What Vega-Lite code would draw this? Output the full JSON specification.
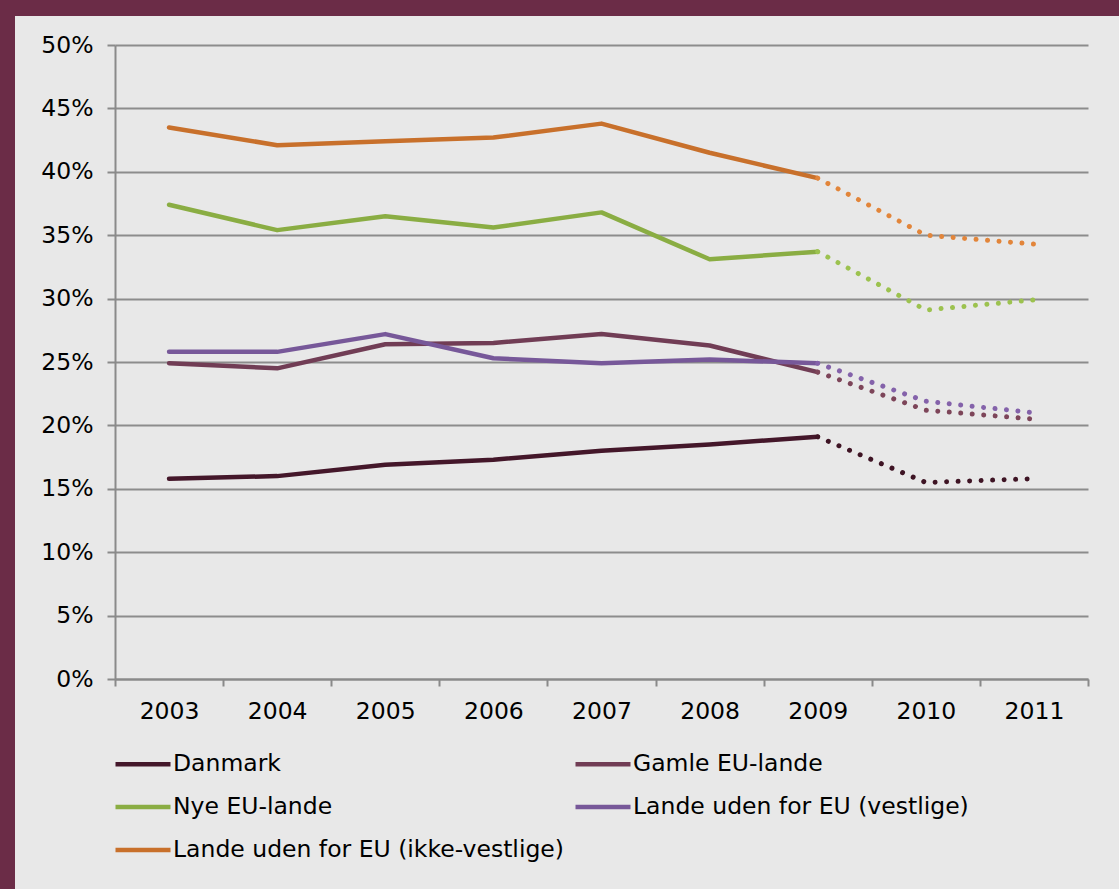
{
  "$schema": "https://vega.github.io/schema/vega-lite/v6.json",
  "width": 1104,
  "height": 873,
  "autosize": "none",
  "padding": {"left": 15, "top": 16, "right": 0, "bottom": 0},
  "background": "#6b2c47",
  "config": {
    "view": {"fill": "#e8e8e8", "stroke": null},
    "font": "DejaVu Sans"
  },
  "data": {
    "values": [
      {"year": 2003, "series": "Danmark", "value": 15.8},
      {"year": 2004, "series": "Danmark", "value": 16.0},
      {"year": 2005, "series": "Danmark", "value": 16.9},
      {"year": 2006, "series": "Danmark", "value": 17.3},
      {"year": 2007, "series": "Danmark", "value": 18.0},
      {"year": 2008, "series": "Danmark", "value": 18.5},
      {"year": 2009, "series": "Danmark", "value": 19.1},
      {"year": 2010, "series": "Danmark", "value": 15.5},
      {"year": 2011, "series": "Danmark", "value": 15.8},
      {"year": 2003, "series": "Gamle EU-lande", "value": 24.9},
      {"year": 2004, "series": "Gamle EU-lande", "value": 24.5},
      {"year": 2005, "series": "Gamle EU-lande", "value": 26.4},
      {"year": 2006, "series": "Gamle EU-lande", "value": 26.5},
      {"year": 2007, "series": "Gamle EU-lande", "value": 27.2},
      {"year": 2008, "series": "Gamle EU-lande", "value": 26.3},
      {"year": 2009, "series": "Gamle EU-lande", "value": 24.2},
      {"year": 2010, "series": "Gamle EU-lande", "value": 21.2},
      {"year": 2011, "series": "Gamle EU-lande", "value": 20.5},
      {"year": 2003, "series": "Nye EU-lande", "value": 37.4},
      {"year": 2004, "series": "Nye EU-lande", "value": 35.4},
      {"year": 2005, "series": "Nye EU-lande", "value": 36.5},
      {"year": 2006, "series": "Nye EU-lande", "value": 35.6},
      {"year": 2007, "series": "Nye EU-lande", "value": 36.8},
      {"year": 2008, "series": "Nye EU-lande", "value": 33.1},
      {"year": 2009, "series": "Nye EU-lande", "value": 33.7},
      {"year": 2010, "series": "Nye EU-lande", "value": 29.1},
      {"year": 2011, "series": "Nye EU-lande", "value": 29.9},
      {"year": 2003, "series": "Lande uden for EU (vestlige)", "value": 25.8},
      {"year": 2004, "series": "Lande uden for EU (vestlige)", "value": 25.8},
      {"year": 2005, "series": "Lande uden for EU (vestlige)", "value": 27.2},
      {"year": 2006, "series": "Lande uden for EU (vestlige)", "value": 25.3},
      {"year": 2007, "series": "Lande uden for EU (vestlige)", "value": 24.9},
      {"year": 2008, "series": "Lande uden for EU (vestlige)", "value": 25.2},
      {"year": 2009, "series": "Lande uden for EU (vestlige)", "value": 24.9},
      {"year": 2010, "series": "Lande uden for EU (vestlige)", "value": 21.9},
      {"year": 2011, "series": "Lande uden for EU (vestlige)", "value": 21.0},
      {"year": 2003, "series": "Lande uden for EU (ikke-vestlige)", "value": 43.5},
      {"year": 2004, "series": "Lande uden for EU (ikke-vestlige)", "value": 42.1},
      {"year": 2005, "series": "Lande uden for EU (ikke-vestlige)", "value": 42.4},
      {"year": 2006, "series": "Lande uden for EU (ikke-vestlige)", "value": 42.7},
      {"year": 2007, "series": "Lande uden for EU (ikke-vestlige)", "value": 43.8},
      {"year": 2008, "series": "Lande uden for EU (ikke-vestlige)", "value": 41.5},
      {"year": 2009, "series": "Lande uden for EU (ikke-vestlige)", "value": 39.5},
      {"year": 2010, "series": "Lande uden for EU (ikke-vestlige)", "value": 35.0},
      {"year": 2011, "series": "Lande uden for EU (ikke-vestlige)", "value": 34.3}
    ]
  },
  "encoding": {
    "x": {
      "field": "year",
      "type": "ordinal",
      "bandPosition": 0.5,
      "scale": {"type": "band", "paddingInner": 0, "paddingOuter": 0, "range": [100, 1073]},
      "axis": {
        "title": null,
        "orient": "bottom",
        "offset": -210,
        "tickBand": "extent",
        "grid": false,
        "labelAngle": 0,
        "labelFontSize": 23.5,
        "labelColor": "#000000",
        "labelPadding": 13,
        "tickSize": 7,
        "tickWidth": 2,
        "tickColor": "#8a8a8a",
        "domainColor": "#8a8a8a",
        "domainWidth": 2
      }
    },
    "y": {
      "field": "value",
      "type": "quantitative",
      "scale": {"domain": [0, 50], "range": [663, 29], "nice": false, "zero": true},
      "axis": {
        "title": null,
        "orient": "left",
        "offset": -100,
        "values": [0, 5, 10, 15, 20, 25, 30, 35, 40, 45, 50],
        "labelExpr": "datum.value + '%'",
        "labelFontSize": 23.5,
        "labelColor": "#000000",
        "labelPadding": 14,
        "tickSize": 8,
        "tickWidth": 2,
        "tickColor": "#8a8a8a",
        "domainColor": "#8a8a8a",
        "domainWidth": 2,
        "grid": true,
        "gridColor": "#8c8c8c",
        "gridWidth": 2
      }
    }
  },
  "layer": [
    {
      "transform": [{"filter": "datum.year <= 2009"}],
      "mark": {"type": "line", "strokeWidth": 4.5, "strokeCap": "round", "strokeJoin": "round"},
      "encoding": {
        "color": {
          "field": "series",
          "type": "nominal",
          "sort": null,
          "scale": {
            "domain": ["Danmark", "Gamle EU-lande", "Nye EU-lande", "Lande uden for EU (vestlige)", "Lande uden for EU (ikke-vestlige)"],
            "range": ["#44172a", "#713d55", "#8aad43", "#775899", "#c8702b"]
          },
          "legend": {
            "title": null,
            "orient": "none",
            "direction": "horizontal",
            "legendX": 98,
            "legendY": 718,
            "columns": 2,
            "columnPadding": 2,
            "rowPadding": 1,
            "symbolType": "stroke",
            "symbolSize": 3025,
            "symbolStrokeWidth": 4.5,
            "labelFontSize": 23.5,
            "labelColor": "#000000",
            "labelOffset": 0,
            "labelLimit": 600
          }
        }
      }
    },
    {
      "transform": [{"filter": "datum.year >= 2009"}],
      "mark": {"type": "line", "strokeWidth": 5, "strokeCap": "round", "strokeDash": [0.01, 11.5]},
      "encoding": {
        "color": {
          "field": "series",
          "type": "nominal",
          "sort": null,
          "scale": {
            "domain": ["Danmark", "Gamle EU-lande", "Nye EU-lande", "Lande uden for EU (vestlige)", "Lande uden for EU (ikke-vestlige)"],
            "range": ["#3e1424", "#7d4559", "#9cc24f", "#8462aa", "#e2853a"]
          },
          "legend": null
        }
      }
    }
  ],
  "resolve": {"scale": {"color": "independent"}}
}
